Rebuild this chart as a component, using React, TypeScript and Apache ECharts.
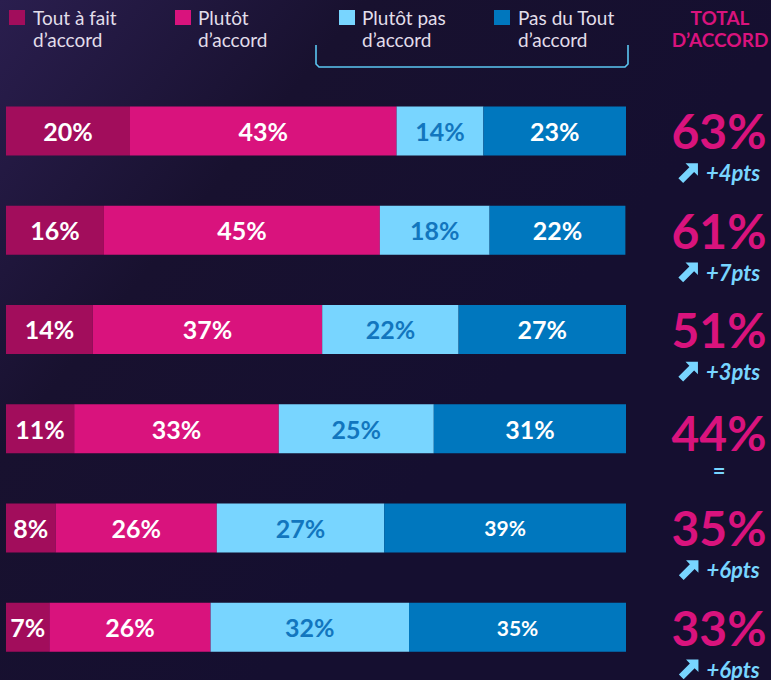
import React, { useEffect, useRef } from "react";
import * as echarts from "echarts";

const rows = ["r1", "r2", "r3", "r4", "r5", "r6"];
const toutAFait = [20, 15.8, 14, 11, 8, 7];
const plutot = [43, 44.5, 37, 33, 26, 26];
const plutotPas = [14, 17.7, 22, 25, 27, 32];
const pasDuTout = [23, 21.9, 27, 31, 39, 35];
const totals = ["63%", "61%", "51%", "44%", "35%", "33%"];
const deltas = ["+4pts", "+7pts", "+3pts", "=", "+6pts", "+6pts"];
const smallLabelRows = [4, 5];

const seriesNames = ["Tout à fait\nd’accord", "Plutôt\nd’accord", "Plutôt pas\nd’accord", "Pas du Tout\nd’accord"];
const colors = ["#A20D5C", "#D9137D", "#78D5FF", "#0077BE"];
const labelColors = ["#FFFFFF", "#FFFFFF", "#1276BE", "#FFFFFF"];

const FONT = "Lato, 'Open Sans', sans-serif";

const arrowSvg =
  "data:image/svg+xml;utf8," +
  encodeURIComponent(
    "<svg xmlns='http://www.w3.org/2000/svg' width='22' height='22' viewBox='0 0 22 22'><polygon points='21,1 21,14 17,10 5.5,21.5 0.5,16.5 12,5 8,1' fill='#78D5FF'/></svg>"
  );

export default function App() {
  const ref = useRef<HTMLDivElement>(null);
  useEffect(() => {
    if (!ref.current) return;
    const chart = echarts.init(ref.current, null, { renderer: "svg" });
    const data = [toutAFait, plutot, plutotPas, pasDuTout];
    const series = data.map((vals, si) => ({
      name: seriesNames[si],
      type: "bar",
      stack: "total",
      barWidth: 49,
      clip: true,
      itemStyle: { color: colors[si] },
      data: vals.map((v, ri) => ({
        value: v,
        label: {
          fontSize: smallLabelRows.includes(ri) && si === 3 ? 21 : 25,
        },
      })),
      label: {
        show: true,
        position: "inside",
        color: labelColors[si],
        fontFamily: FONT,
        fontWeight: "bold",
        fontSize: 25,
        formatter: (p: any) => Math.round(p.value) + "%",
      },
    }));

    const legendX = [9, 175, 339, 494];
    const legendTextX = [33, 198, 362, 518];
    const graphics: any[] = [];
    seriesNames.forEach((n, i) => {
      graphics.push({
        type: "rect",
        shape: { x: legendX[i], y: 10, width: 16, height: 15 },
        style: { fill: colors[i] },
      });
      graphics.push({
        type: "text",
        x: legendTextX[i],
        y: 6,
        style: {
          text: n,
          fill: "#E2DEEA",
          font: `19px ${FONT}`,
          lineHeight: 22,
        },
      });
    });
    graphics.push({
      type: "polyline",
      shape: {
        points: [
          [316, 45],
          [316, 64],
          [319, 67],
          [625, 67],
          [628, 64],
          [628, 45],
        ],
      },
      style: { stroke: "#5BC6F2", lineWidth: 1.6, fill: "none" },
    });
    graphics.push({
      type: "text",
      x: 720,
      y: 6,
      style: {
        text: "TOTAL\nD’ACCORD",
        fill: "#D9137D",
        font: `bold 19px ${FONT}`,
        lineHeight: 22,
        align: "center",
      },
    });

    chart.setOption({
      animation: false,
      backgroundColor: new echarts.graphic.LinearGradient(0, 0, 0.7, 0.5, [
        { offset: 0, color: "#2A1E4E" },
        { offset: 0.45, color: "#18112F" },
        { offset: 1, color: "#150F30" },
      ]),
      grid: { left: 6, right: 145, top: 81.25, height: 597 },
      xAxis: { type: "value", min: 0, max: 100, show: false },
      yAxis: [
        {
          type: "category",
          data: rows,
          inverse: true,
          axisLine: { show: false },
          axisTick: { show: false },
          axisLabel: { show: false },
        },
        {
          type: "category",
          data: rows,
          inverse: true,
          position: "right",
          axisLine: { show: false },
          axisTick: { show: false },
          axisLabel: {
            show: true,
            margin: 93,
            align: "center",
            padding: [30, 0, 0, 0],
            formatter: (_v: string, i: number) => {
              const d = deltas[i];
              const second = d === "=" ? `{eq|=}` : `{arrow|}{gap|}{delta|${d}}`;
              return `{big|${totals[i]}}\n${second}`;
            },
            rich: {
              big: {
                fontFamily: FONT,
                fontWeight: "bold",
                fontSize: 48,
                color: "#D9137D",
                lineHeight: 54,
                verticalAlign: "middle",
              },
              arrow: {
                width: 21,
                height: 21,
                backgroundColor: { image: arrowSvg },
                verticalAlign: "middle",
                lineHeight: 30,
              },
              gap: { width: 7, lineHeight: 30 },
              delta: {
                fontFamily: FONT,
                fontWeight: "bold",
                fontStyle: "italic",
                fontSize: 22,
                color: "#78D5FF",
                lineHeight: 30,
                verticalAlign: "middle",
              },
              eq: {
                fontFamily: FONT,
                fontWeight: "bold",
                fontSize: 22,
                color: "#78D5FF",
                lineHeight: 22,
                verticalAlign: "middle",
              },
            },
          },
        },
      ],
      series,
      graphic: graphics,
    });
    return () => chart.dispose();
  }, []);
  return (
    <div
      ref={ref}
      style={{ position: "fixed", left: 0, top: 0, width: 771, height: 680 }}
    />
  );
}
